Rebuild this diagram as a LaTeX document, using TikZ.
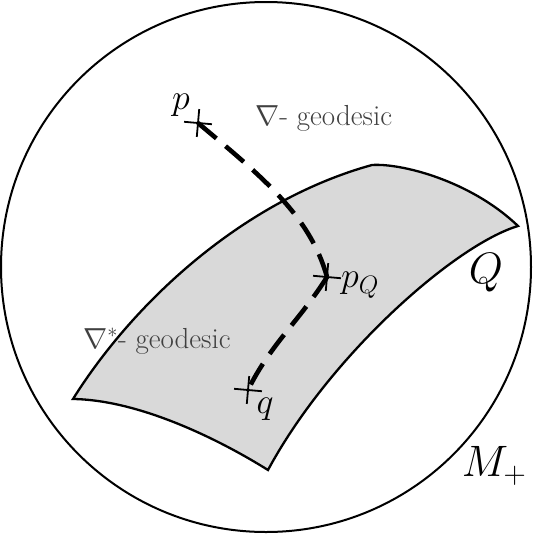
\RequirePackage{fix-cm}
\documentclass[tikz,border=0pt]{standalone}
\usetikzlibrary{shapes.misc}
\tikzset{
  edge/.style={line width=2.3pt, line join=miter},
  geo/.style={line width=4.6pt, dash pattern=on 24pt off 12pt},
  crossmark/.style={cross out, draw, line width=1.8pt, minimum size=18pt, inner sep=0pt, rotate=40},
  lbl/.style={inner sep=0pt, font=\fontsize{36}{42}\selectfont},
  biglbl/.style={inner sep=0pt, font=\fontsize{44}{52}\selectfont},
  geolbl/.style={inner sep=0pt, text=black!75, font=\fontsize{29}{35}\selectfont}
}
\begin{document}
\begin{tikzpicture}[x=1pt,y=-1pt]
\useasboundingbox (0,0) rectangle (534,539);
% ambient manifold
\draw[line width=2pt] (266,267) circle [radius=265];
% surface Q
\coordinate (A) at (73,399);
\coordinate (B) at (372,165);
\coordinate (C) at (518,226);
\coordinate (D) at (268,470);
\filldraw[edge, fill=black!15]
  (A) .. controls (135,300) and (245,200) .. (B)
      .. controls (400,163) and (470,180) .. (C)
      .. controls (455,245) and (330,355) .. (D)
      .. controls (220,440) and (140,400) .. cycle;
% points
\node[crossmark] (p) at (198,123) {};
\node[crossmark] (pQ) at (327,277) {};
\node[crossmark] (q) at (248,390) {};
% geodesics
\draw[geo] (p.center) .. controls (260,175) and (310,215) .. (pQ.center);
\draw[geo] (pQ.center) .. controls (300,320) and (270,345) .. (q.center);
% labels
\node[lbl] (lp) at (181,105) {$p$};
\node[lbl, anchor=west] (lpQ) at (341,285) {$p_Q$};
\node[lbl] (lq) at (265,409) {$q$};
\node[biglbl] (lQ) at (486,273) {$Q$};
\node[biglbl] (lM) at (494,466) {$M_+$};
\node[geolbl, anchor=base west] (g1) at (255,125) {$\nabla$- geodesic};
\node[geolbl, anchor=base west] (g2) at (83,348) {$\nabla^{*}$- geodesic};
\end{tikzpicture}
\end{document}
